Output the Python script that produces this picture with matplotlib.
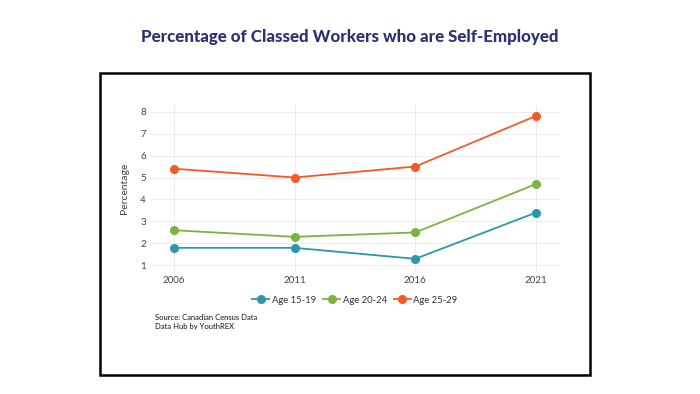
import matplotlib.pyplot as plt
from matplotlib.patches import Rectangle

# data
years = [2006, 2011, 2016, 2021]
age_15_19 = [1.8, 1.8, 1.3, 3.4]
age_20_24 = [2.6, 2.3, 2.5, 4.7]
age_25_29 = [5.4, 5.0, 5.5, 7.8]
series_labels = ['Age 15-19', 'Age 20-24', 'Age 25-29']
colors = ['#2a98a8', '#7ab342', '#f05a28']

plt.rcParams['font.family'] = ['Lato', 'DejaVu Sans']

fig = plt.figure(figsize=(7, 3.94), dpi=100)
fig.patch.set_facecolor('white')

# title
fig.text(0.5, 1 - 37 / 394, 'Percentage of Classed Workers who are Self-Employed',
         ha='center', va='center', fontsize=12.2, fontweight='black', color='#2b3272')

# black frame around the chart
fig.patches.append(Rectangle((100 / 700, 1 - 375 / 394), 490 / 700, 302 / 394,
                             transform=fig.transFigure, fill=False,
                             edgecolor='black', linewidth=1.8))

ax = fig.add_axes([150 / 700, 1 - 272 / 394, 410 / 700, 167 / 394])
for vals, lab, c in zip([age_15_19, age_20_24, age_25_29], series_labels, colors):
    ax.plot(years, vals, color=c, marker='o', markersize=5.5, linewidth=1.3, label=lab)

ax.set_xlim(2005.0, 2022.0)
ax.set_ylim(0.7, 8.3)
ax.set_xticks(years)
ax.set_yticks(range(1, 9))
ax.grid(True, color='#ececec', linewidth=0.7)
ax.set_axisbelow(True)
for s in ax.spines.values():
    s.set_visible(False)
ax.tick_params(length=0, labelsize=7, colors='#444444', pad=3)
ax.set_ylabel('Percentage', fontsize=7.5, color='#444444', labelpad=8)

ax.legend(loc='upper center', bbox_to_anchor=(0.5, -0.09), ncol=3, frameon=False,
          fontsize=6.8, handlelength=1.8, columnspacing=0.7, handletextpad=0.3,
          labelcolor='#333333')

fig.text(155 / 700, 1 - 322 / 394, 'Source: Canadian Census Data\nData Hub by YouthREX',
         ha='left', va='center', fontsize=5.5, color='#111111', linespacing=1.3)

fig.savefig('out.png', dpi=100)
